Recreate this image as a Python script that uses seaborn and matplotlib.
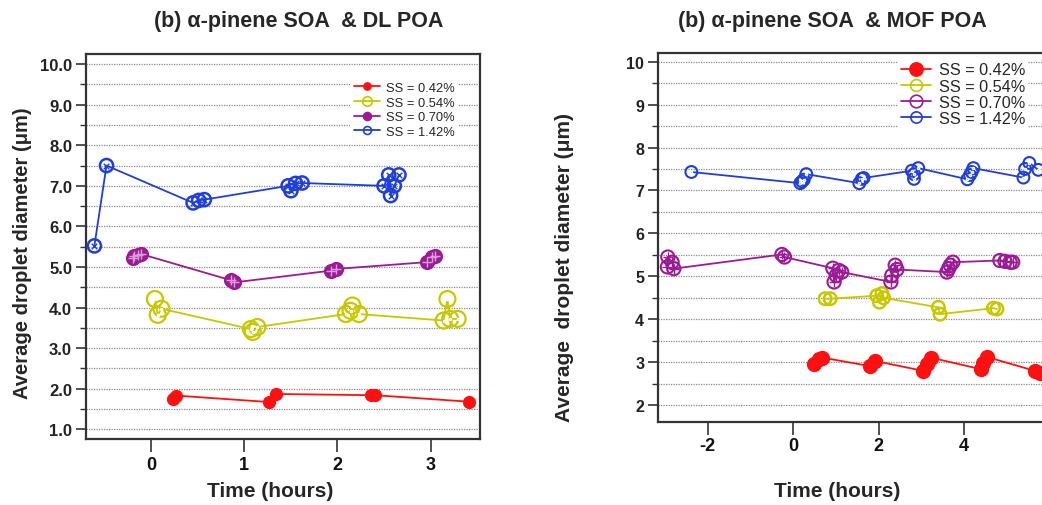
import numpy as np
import pandas as pd
import matplotlib
matplotlib.use("Agg")
import matplotlib.pyplot as plt
import seaborn as sns
from matplotlib.lines import Line2D
from matplotlib.ticker import MultipleLocator, FormatStrFormatter, FixedLocator

sns.set_theme(style="white")
plt.rcParams["font.family"] = ["Liberation Sans", "DejaVu Sans"]
plt.rcParams["axes.unicode_minus"] = False
NARROW = ["Liberation Sans Narrow", "Liberation Sans", "DejaVu Sans"]

series_labels = ["SS = 0.42%", "SS = 0.54%", "SS = 0.70%", "SS = 1.42%"]
title_left = "(b) α-pinene SOA  & DL POA"
title_right = "(b) α-pinene SOA  & MOF POA"
ylabel_left = "Average droplet diameter (μm)"
ylabel_right = "Average  droplet diameter (μm)"
xlabel = "Time (hours)"
xticks_right = [-2, 0, 2, 4]

# ---------------- left panel (DL POA) ----------------
dl_t_042 = [0.23, 0.27, 1.27, 1.34, 2.36, 2.40, 3.41]
dl_d_042 = [1.75, 1.83, 1.67, 1.87, 1.84, 1.84, 1.68]
dl_t_054 = [0.04, 0.07, 0.11, 1.07, 1.09, 1.14, 2.09, 2.14, 2.16, 2.23, 3.14, 3.18, 3.21, 3.29]
dl_d_054 = [4.21, 3.82, 3.97, 3.47, 3.40, 3.52, 3.84, 3.92, 4.05, 3.84, 3.68, 4.21, 3.72, 3.72]
dl_t_070 = [-0.20, -0.18, -0.14, -0.11, 0.86, 0.89, 1.93, 1.98, 2.96, 3.02, 3.05]
dl_d_070 = [5.21, 5.28, 5.29, 5.32, 4.67, 4.62, 4.91, 4.95, 5.12, 5.24, 5.28]
dl_t_142 = [-0.61, -0.48, 0.45, 0.51, 0.57, 1.47, 1.50, 1.55, 1.62, 2.50, 2.55, 2.57, 2.61, 2.66]
dl_d_142 = [5.52, 7.50, 6.58, 6.64, 6.66, 7.00, 6.88, 7.06, 7.07, 7.00, 7.27, 6.76, 7.00, 7.27]

# ---------------- right panel (MOF POA) ----------------
mof_t_042 = [0.48, 0.60, 0.68, 1.81, 1.92, 3.05, 3.13, 3.22, 4.39, 4.45, 4.55, 5.66, 5.78]
mof_d_042 = [2.95, 3.07, 3.11, 2.91, 3.03, 2.80, 2.95, 3.11, 2.84, 2.99, 3.12, 2.80, 2.76]
mof_t_054 = [0.75, 0.87, 1.96, 2.02, 2.08, 2.12, 3.40, 3.44, 4.69, 4.77]
mof_d_054 = [4.48, 4.48, 4.55, 4.40, 4.60, 4.50, 4.28, 4.12, 4.26, 4.24]
mof_t_070 = [-2.94, -2.93, -2.83, -2.79, -0.26, -0.20, 0.93, 0.96, 1.01, 1.07, 1.14,
             2.29, 2.31, 2.39, 2.43, 3.60, 3.64, 3.68, 3.74, 4.84, 4.96, 5.08, 5.14]
mof_d_070 = [5.22, 5.45, 5.33, 5.18, 5.51, 5.45, 5.19, 4.87, 5.02, 5.14, 5.10,
             4.87, 5.02, 5.26, 5.16, 5.10, 5.18, 5.26, 5.33, 5.37, 5.35, 5.33, 5.33]
mof_t_142 = [-2.38, 0.17, 0.21, 0.25, 0.31, 1.55, 1.61, 1.65, 2.78, 2.83, 2.83, 2.93,
             4.08, 4.14, 4.18, 4.22, 5.39, 5.43, 5.53, 5.74]
mof_d_142 = [7.43, 7.17, 7.21, 7.25, 7.38, 7.17, 7.27, 7.29, 7.46, 7.27, 7.38, 7.52,
             7.26, 7.36, 7.43, 7.52, 7.30, 7.50, 7.64, 7.48]

colors = ["#ff1010", "#c8c800", "#9c1a96", "#1f3fd8"]

W, H = 1042, 506
fig = plt.figure(figsize=(W / 100, H / 100), dpi=100)


def px_rect(x0, y0, x1, y1):
    return [x0 / W, 1 - y1 / H, (x1 - x0) / W, (y1 - y0) / H]


axL = fig.add_axes(px_rect(86, 55, 480, 440))
axR = fig.add_axes(px_rect(658, 54, 1058, 423))

# styles: (size, facecolor, inner marker, inner size, edge width)
style_left = [
    (8.5, "fill", None, 0, 1.0),
    (11.5, "none", ".", 3, 1.6),
    (9.5, "fill", "+", 7, 1.4),
    (9.5, "none", "x", 4, 1.8),
]
style_right = [
    (10.0, "fill", None, 0, 1.0),
    (9.0, "none", None, 0, 1.8),
    (9.5, "none", "+", 7, 1.5),
    (8.5, "none", ".", 3, 1.5),
]


def draw_series(ax, t, d, color, st):
    size, face, inner, isz, mew = st
    df = pd.DataFrame({"t": t, "d": d})
    sns.lineplot(data=df, x="t", y="d", ax=ax, color=color, lw=1.3,
                 estimator=None, sort=True, legend=False, zorder=2)
    fc = color if face == "fill" else "none"
    sns.scatterplot(data=df, x="t", y="d", ax=ax, color=color, s=size ** 2,
                    marker="o", facecolor=fc, edgecolor=color, linewidth=mew,
                    legend=False, zorder=3)
    if inner:
        ic = "#d9a0d6" if (face == "fill" and inner == "+") else color
        sns.scatterplot(data=df, x="t", y="d", ax=ax, color=ic, s=isz ** 2,
                        marker=inner, linewidth=1.0, legend=False, zorder=4)


left_data = [(dl_t_042, dl_d_042), (dl_t_054, dl_d_054), (dl_t_070, dl_d_070), (dl_t_142, dl_d_142)]
right_data = [(mof_t_042, mof_d_042), (mof_t_054, mof_d_054), (mof_t_070, mof_d_070), (mof_t_142, mof_d_142)]

for (t, d), c, st in zip(left_data, colors, style_left):
    draw_series(axL, t, d, c, st)
for (t, d), c, st in zip(right_data, colors, style_right):
    draw_series(axR, t, d, c, st)

axL.set_xlim(-0.70, 3.53)
axL.set_ylim(0.76, 10.25)
axR.set_xlim(-3.16, 6.2)
axR.set_ylim(1.61, 10.2)

axL.xaxis.set_major_locator(MultipleLocator(1))
axL.yaxis.set_major_locator(MultipleLocator(1))
axL.yaxis.set_minor_locator(MultipleLocator(0.5))
axL.yaxis.set_major_formatter(FormatStrFormatter("%.1f"))
axR.xaxis.set_major_locator(FixedLocator(xticks_right))
axR.yaxis.set_major_locator(MultipleLocator(1))
axR.yaxis.set_minor_locator(MultipleLocator(0.5))

for ax, tsz, xpad in ((axL, 12, 3), (axR, 11.5, 2)):
    ax.set_xlabel("")
    ax.set_ylabel("")
    ax.yaxis.grid(True, which="both", color="#8a8a8a", lw=0.9, linestyle=(0, (1, 1)))
    ax.xaxis.grid(False)
    ax.set_axisbelow(True)
    for sp in ax.spines.values():
        sp.set_color("#333333")
        sp.set_linewidth(1.6)
    ax.tick_params(axis="y", which="major", direction="out", length=7, width=1.2,
                   color="#333333", left=True, pad=3)
    ax.tick_params(axis="y", which="minor", direction="out", length=4, width=1.0,
                   color="#333333", left=True)
    ax.tick_params(axis="x", which="major", direction="out", length=9, width=1.2,
                   color="#333333", bottom=True, pad=xpad)
    for lab in ax.get_yticklabels():
        lab.set_fontweight("bold")
        lab.set_fontsize(tsz)
        lab.set_color("#222222")
    for lab in ax.get_xticklabels():
        lab.set_fontweight("bold")
        lab.set_fontsize(13)
        lab.set_family(NARROW)
        lab.set_color("#111111")

axR.spines["right"].set_visible(False)


def make_handles(styles, scale):
    hs = []
    for c, st in zip(colors, styles):
        size, face, inner, isz, mew = st
        fc = c if face == "fill" else "none"
        hs.append(Line2D([0], [0], color=c, lw=1.3, marker="o",
                         markersize=size * scale, markerfacecolor=fc,
                         markeredgecolor=c, markeredgewidth=1.2))
    return hs


legL = axL.legend(make_handles(style_left, 0.6), series_labels, loc="upper left",
                  bbox_to_anchor=(350 / W, 1 - 79 / H), bbox_transform=fig.transFigure,
                  frameon=True, facecolor="white", edgecolor="none", framealpha=1,
                  fontsize=9.3, handlelength=2.0, handletextpad=0.5,
                  labelspacing=0.2, borderpad=0.3, borderaxespad=0)
legR = axR.legend(make_handles(style_right, 0.95), series_labels, loc="upper left",
                  bbox_to_anchor=(898 / W, 1 - 60 / H), bbox_transform=fig.transFigure,
                  frameon=True, facecolor="white", edgecolor="none", framealpha=1,
                  fontsize=11.7, handlelength=1.8, handletextpad=0.5,
                  labelspacing=0.08, borderpad=0.2, borderaxespad=0)

fig.text(299 / W, 1 - 22 / H, title_left, ha="center", va="center",
         fontsize=15.5, fontweight="bold", family=NARROW)
fig.text(832 / W, 1 - 22 / H, title_right, ha="center", va="center",
         fontsize=15.5, fontweight="bold", family=NARROW)
fig.text(23 / W, 1 - 253 / H, ylabel_left, ha="center", va="center", rotation=90,
         fontsize=14.5, fontweight="bold")
fig.text(565 / W, 1 - 268 / H, ylabel_right, ha="center", va="center", rotation=90,
         fontsize=15, fontweight="bold")
fig.text(270 / W, 1 - 492 / H, xlabel, ha="center", va="center",
         fontsize=15, fontweight="bold", family=NARROW)
fig.text(837 / W, 1 - 492 / H, xlabel, ha="center", va="center",
         fontsize=15, fontweight="bold", family=NARROW)

fig.savefig("out.png", dpi=100, facecolor="white")
